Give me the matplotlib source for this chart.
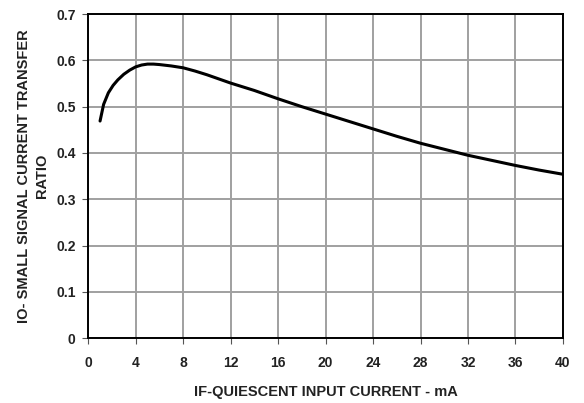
import matplotlib
matplotlib.use('Agg')
import matplotlib.pyplot as plt

# curve
if_ma = [1.0, 1.3, 1.7, 2.1, 2.5, 3.0, 3.5, 4.0, 4.5, 5.0, 5.5, 6.0, 7.0, 8.0,
         9.0, 10.0, 12.0, 14.0, 16.0, 18.0, 20.0, 22.0, 24.0, 26.0, 28.0,
         30.0, 32.0, 34.0, 36.0, 38.0, 40.0]
ratio = [0.469, 0.505, 0.530, 0.546, 0.558, 0.570, 0.579, 0.586, 0.590, 0.592,
         0.592, 0.591, 0.588, 0.584, 0.577, 0.569, 0.551, 0.535, 0.517, 0.500,
         0.484, 0.468, 0.452, 0.436, 0.421, 0.408, 0.395, 0.384, 0.373, 0.363,
         0.354]

xticks = list(range(0, 41, 4))
yticks = [0, 0.1, 0.2, 0.3, 0.4, 0.5, 0.6, 0.7]

plt.rcParams['font.family'] = ['Liberation Sans', 'DejaVu Sans']

fig = plt.figure(figsize=(5.84, 4.03), dpi=100)
ax = fig.add_axes([0.151, 0.161, 0.813, 0.804])

ax.plot(if_ma, ratio, color='black', lw=2.2, solid_capstyle='round')

ax.set_xlim(0, 40)
ax.set_ylim(0, 0.7)
ax.set_xticks(xticks)
ax.set_yticks(yticks)
ax.set_xticklabels([str(t) for t in xticks], fontsize=10, fontweight='bold', color='#222222')
ax.set_yticklabels(['0'] + ['%.1f' % t for t in yticks[1:]], fontsize=10,
                   fontweight='bold', color='#222222')
ax.tick_params(direction='out', length=4, width=0.8, color='#555555')
ax.tick_params(axis='x', pad=9)
ax.tick_params(axis='y', pad=5)

ax.grid(True, color='#a0a0a0', lw=1.4)
ax.set_axisbelow(True)
for s in ax.spines.values():
    s.set_linewidth(1.4)
    s.set_color('black')

ax.set_xlabel('IF-QUIESCENT INPUT CURRENT - mA', fontsize=10.5, fontweight='bold',
              color='#222222', labelpad=11)
ax.set_ylabel('IO- SMALL SIGNAL CURRENT TRANSFER\nRATIO', fontsize=10.5,
              fontweight='bold', color='#222222', labelpad=5, linespacing=1.35)

fig.savefig('out.png', dpi=100)
